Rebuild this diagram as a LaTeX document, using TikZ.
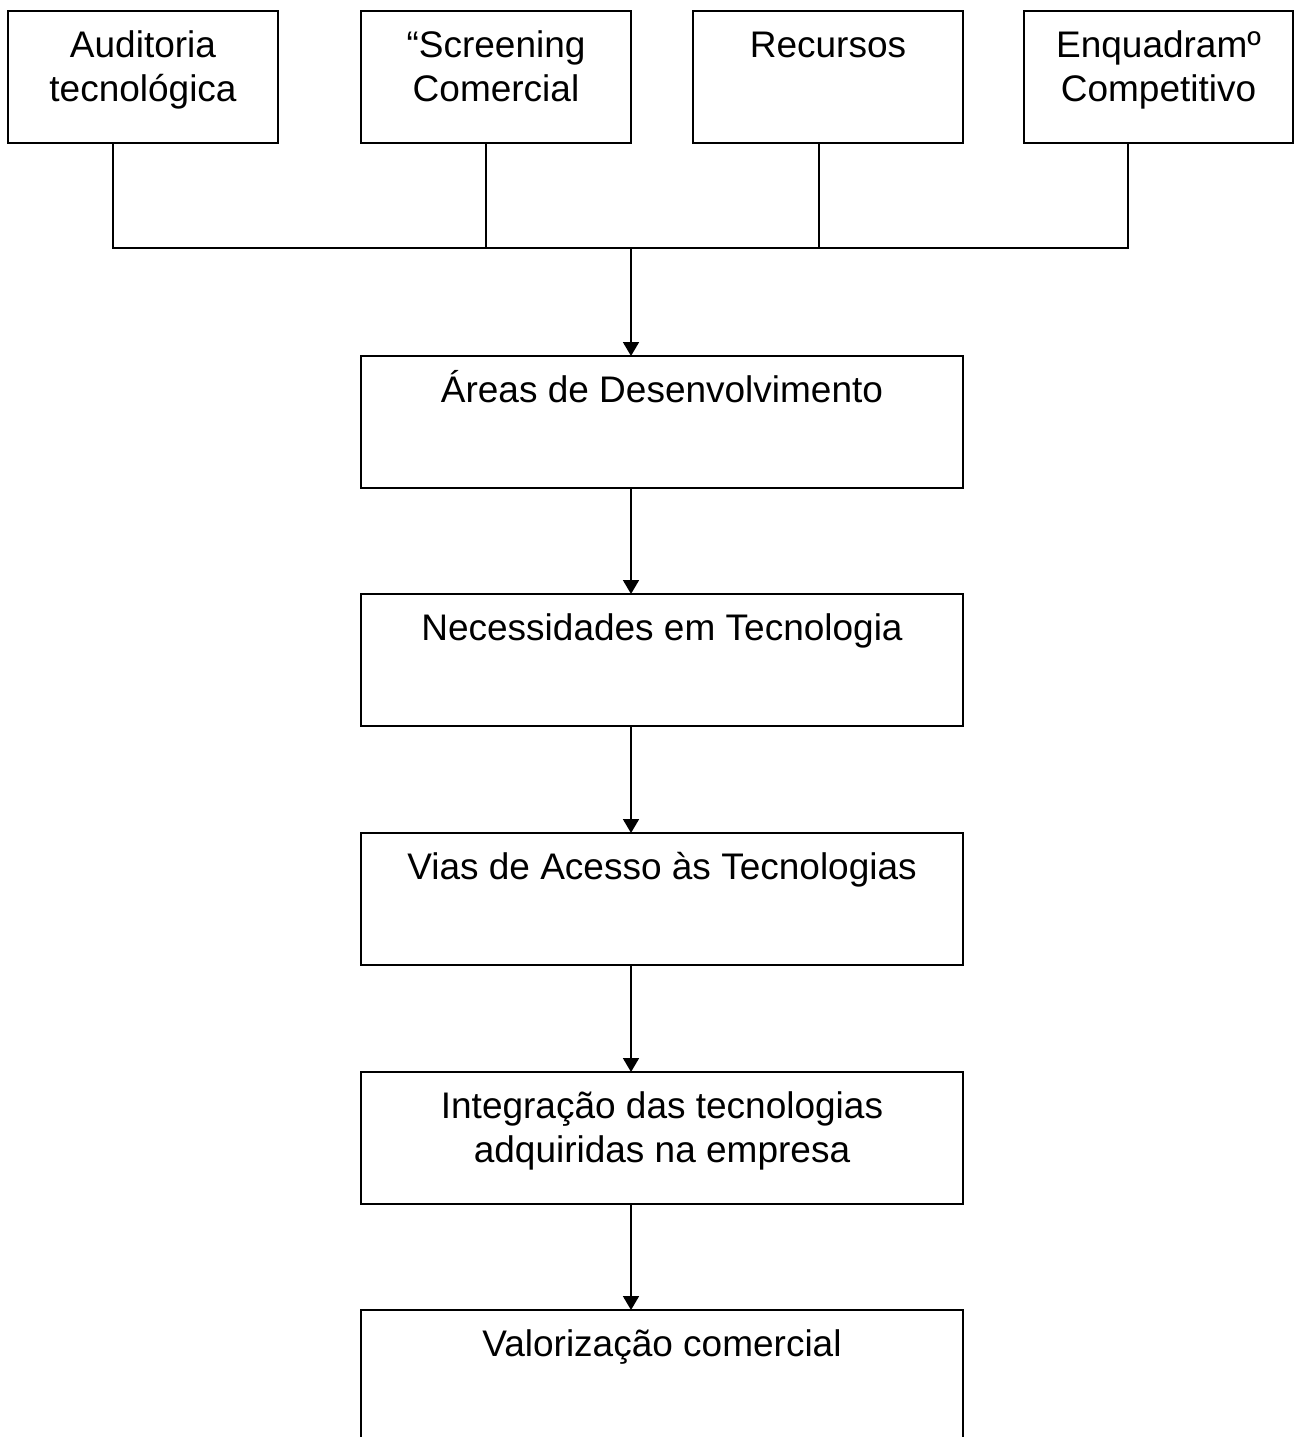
\documentclass[tikz,border=0pt]{standalone}
\usepackage{fontspec}
\setmainfont{Liberation Sans}
\usetikzlibrary{arrows.meta}
\newcommand\boxtxt[3]{\parbox[t][#2][t]{#1}{\centering\rule{0pt}{46pt}#3}}
\tikzset{
  blk/.style={draw=black, line width=1.8pt, inner sep=0pt, outer sep=0pt, anchor=north west,
    font=\fontsize{37pt}{44pt}\selectfont},
  wire/.style={draw=black, line width=1.8pt},
  arr/.style={wire, -{Triangle[width=16pt,length=14pt]}}
}
\begin{document}
\begin{tikzpicture}[x=1pt, y=-1pt]
\useasboundingbox (0,0) rectangle (1294,1437);
\fill[white] (0,0) rectangle (1294,1437);
% top row
\node[blk] (b1) at (8,11)    {\boxtxt{270pt}{132pt}{Auditoria\\tecnológica}};
\node[blk] (b2) at (361,11)  {\boxtxt{270pt}{132pt}{“Screening\\Comercial}};
\node[blk] (b3) at (693,11)  {\boxtxt{270pt}{132pt}{Recursos}};
\node[blk] (b4) at (1024,11) {\boxtxt{269pt}{132pt}{Enquadramº\\Competitivo}};
% column
\node[blk] (areas)  at (361,356)  {\boxtxt{602pt}{132pt}{Áreas de Desenvolvimento}};
\node[blk] (necess) at (361,594)  {\boxtxt{602pt}{132pt}{Necessidades em Tecnologia}};
\node[blk] (vias)   at (361,833)  {\boxtxt{602pt}{132pt}{Vias de Acesso às Tecnologias}};
\node[blk] (integ)  at (361,1072) {\boxtxt{602pt}{132pt}{Integração das tecnologias\\adquiridas na empresa}};
\node[blk] (valor)  at (361,1310) {\boxtxt{602pt}{132pt}{Valorização comercial}};
% bus
\coordinate (j1) at (113,248);
\coordinate (j2) at (486,248);
\coordinate (j3) at (819,248);
\coordinate (j4) at (1128,248);
\coordinate (jm) at (631,248);
\draw[wire] (b1.south -| j1) -- (j1) -- (j4) -- (b4.south -| j4);
\draw[wire] (b2.south -| j2) -- (j2);
\draw[wire] (b3.south -| j3) -- (j3);
\draw[arr] (jm) -- (areas.north -| jm);
\draw[arr] (areas.south -| jm) -- (necess.north -| jm);
\draw[arr] (necess.south -| jm) -- (vias.north -| jm);
\draw[arr] (vias.south -| jm) -- (integ.north -| jm);
\draw[arr] (integ.south -| jm) -- (valor.north -| jm);
\end{tikzpicture}
\end{document}
